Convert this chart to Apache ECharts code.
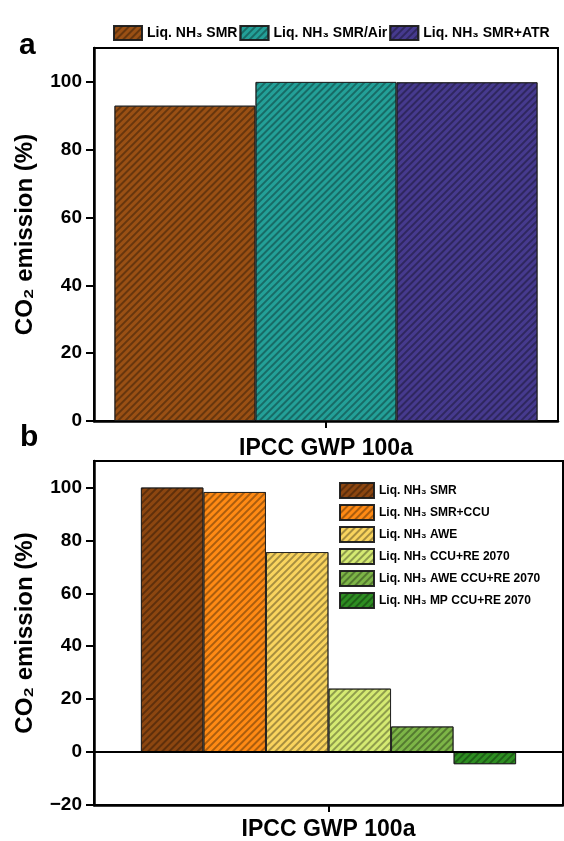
<!DOCTYPE html>
<html>
<head>
<meta charset="utf-8">
<script src="https://cdn.jsdelivr.net/npm/echarts@6/dist/echarts.min.js"></script>
<style>
html,body{margin:0;padding:0;background:#fff;}
#c{width:564px;height:841px;}
</style>
</head>
<body>
<div id="c"></div>
<script>
// ---- data ----
const categories = ['IPCC GWP 100a'];
const namesA = ['Liq. NH₃ SMR', 'Liq. NH₃ SMR/Air', 'Liq. NH₃ SMR+ATR'];
const valuesA = [93, 100, 99.9];
const namesB = ['Liq. NH₃ SMR', 'Liq. NH₃ SMR+CCU', 'Liq. NH₃ AWE', 'Liq. NH₃ CCU+RE 2070', 'Liq. NH₃ AWE CCU+RE 2070', 'Liq. NH₃ MP CCU+RE 2070'];
const valuesB = [100, 98.3, 75.6, 24, 9.7, -4.6];
const yTicksA = [0, 20, 40, 60, 80, 100];
const yTicksB = [-20, 0, 20, 40, 60, 80, 100];

// ---- styles ----
const colorsA = ['#9A5014', '#23A098', '#463A8E'];
const colorsB = ['#8C4610', '#FF8A14', '#F9D45E', '#D5EA72', '#7DB547', '#2E8E22'];
const FONT = 'Liberation Sans, Arial, sans-serif';
const decal = {
  color: 'rgba(0,0,0,0.33)',
  dashArrayX: [1, 0],
  dashArrayY: [1.2, 2.2],
  rotation: -Math.PI / 4
};

function yAxisCfg(gridIndex, min, max, ticks) {
  return {
    type: 'value', gridIndex, min, max, interval: 20,
    name: 'CO₂ emission (%)', nameLocation: 'middle', nameGap: 57,
    nameTextStyle: { fontFamily: FONT, fontWeight: 'bold', fontSize: 24, color: '#000' },
    axisLine: { show: true, lineStyle: { color: '#000', width: 2.5 } },
    axisTick: { show: true, length: 8, lineStyle: { color: '#000', width: 2 }, customValues: ticks },
    axisLabel: {
      fontFamily: FONT, fontWeight: 'bold', fontSize: 19, color: '#000', margin: 12, customValues: ticks,
      formatter: v => String(v).replace('-', '\u2212')
    },
    splitLine: { show: false }
  };
}
function xAxisCfg(gridIndex, margin) {
  return {
    type: 'category', gridIndex, data: categories,
    axisLine: { onZero: false, lineStyle: { color: '#000', width: 2.5 } },
    axisTick: { show: true, alignWithLabel: true, length: 7, lineStyle: { color: '#000', width: 2 } },
    axisLabel: { fontFamily: FONT, fontWeight: 'bold', fontSize: 23, color: '#000', margin }
  };
}

const series = [];
namesA.forEach((n, i) => {
  series.push({
    type: 'bar', name: 'a:' + n, xAxisIndex: 0, yAxisIndex: 0,
    data: [valuesA[i]], barGap: '0%', barCategoryGap: '8.8%',
    itemStyle: { color: colorsA[i], borderColor: 'rgba(30,30,30,0.8)', borderWidth: 1, decal }
  });
});
namesB.forEach((n, i) => {
  const s = {
    type: 'bar', name: 'b:' + n, xAxisIndex: 1, yAxisIndex: 1,
    data: [valuesB[i]], barGap: '0%', barCategoryGap: '20%',
    itemStyle: { color: colorsB[i], borderColor: 'rgba(30,30,30,0.8)', borderWidth: 1, decal }
  };
  if (i === 0) {
    s.markLine = {
      silent: true, symbol: 'none', label: { show: false },
      lineStyle: { color: '#000', width: 2, type: 'solid' },
      data: [{ yAxis: 0 }]
    };
  }
  series.push(s);
});

const chart = echarts.init(document.getElementById('c'), null, { renderer: 'canvas' });
chart.setOption({
  animation: false,
  backgroundColor: '#fff',
  title: [
    { text: 'a', left: 14, top: 26, textStyle: { fontFamily: FONT, fontWeight: 'bold', fontSize: 30, color: '#000' } },
    { text: 'b', left: 15, top: 418, textStyle: { fontFamily: FONT, fontWeight: 'bold', fontSize: 30, color: '#000' } }
  ],
  legend: [
    {
      data: namesA.map(n => 'a:' + n), orient: 'horizontal', left: 108, top: 20,
      itemWidth: 28, itemHeight: 14, itemGap: 2, icon: 'rect',
      formatter: n => n.slice(2),
      textStyle: { fontFamily: FONT, fontWeight: 'bold', fontSize: 14, color: '#000' }
    },
    {
      data: namesB.map(n => 'b:' + n), orient: 'vertical', left: 334, top: 477,
      itemWidth: 34, itemHeight: 15, itemGap: 5, icon: 'rect',
      formatter: n => n.slice(2),
      textStyle: { fontFamily: FONT, fontWeight: 'bold', fontSize: 12, color: '#000' }
    }
  ],
  grid: [
    { left: 94, top: 48, width: 464, height: 373, show: true, borderColor: '#000', borderWidth: 2, containLabel: false },
    { left: 94, top: 461, width: 469, height: 350, show: true, borderColor: '#000', borderWidth: 2, containLabel: false }
  ],
  xAxis: [xAxisCfg(0, 16), xAxisCfg(1, 13)],
  yAxis: [yAxisCfg(0, 0, 110, yTicksA), yAxisCfg(1, -20, 110, yTicksB)],
  series
});
</script>
</body>
</html>
